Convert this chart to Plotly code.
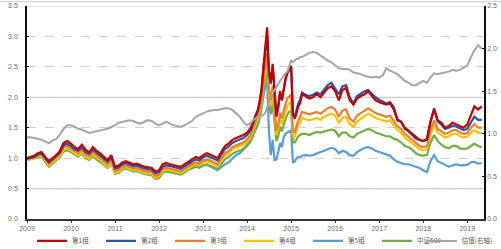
import pandas as pd
import plotly.graph_objects as go

# ---- dates: monthly, semi-monthly around the 2014/15 spike, monthly again ----
d1 = list(pd.date_range("2009-01-01", "2014-03-01", freq="MS"))
d2 = []
for m in pd.date_range("2014-04-01", "2015-03-01", freq="MS"):
    d2.append(m)
    d2.append(m + pd.Timedelta(days=15))
d3 = list(pd.date_range("2015-04-01", "2019-05-01", freq="MS"))
dates = d1 + d2 + d3

names = ["第1组", "第2组", "第3组", "第4组", "第5组", "中证500", "估值(右轴)"]
colors = ["#C00000", "#2E54A1", "#ED7D31", "#FFC000", "#5B9BD5", "#70AD47", "#A5A5A5"]

g1 = [1.00,1.02,1.04,1.08,1.10,1.02,0.95,1.00,1.05,1.12,1.25,1.28,
      1.24,1.18,1.15,1.22,1.14,1.10,1.18,1.12,1.08,1.02,0.97,1.05,
      0.86,0.88,0.93,0.95,0.93,0.90,0.91,0.88,0.86,0.85,0.84,0.78,
      0.80,0.90,0.92,0.90,0.88,0.87,0.86,0.90,0.95,0.98,1.02,1.00,
      1.05,1.08,1.06,1.03,1.00,1.10,1.20,1.24,1.30,1.33,1.35,1.38,
      1.42,1.50,1.65,
      1.80,1.95,2.15,2.50,2.85,3.15,2.45,2.25,2.55,2.10,1.70,1.85,2.10,1.95,2.15,2.30,2.40,2.45,
      2.50,1.75,1.65,1.75,1.85,1.90,
      2.05,2.02,1.98,2.00,2.05,2.00,2.08,2.15,2.18,
      2.10,1.95,2.12,2.15,1.95,1.88,1.98,2.02,2.05,2.10,2.02,1.95,
      1.92,1.90,1.88,1.90,1.80,1.62,1.60,1.50,1.45,1.40,1.35,1.30,
      1.28,1.32,1.60,1.80,1.62,1.58,1.50,1.53,1.58,1.55,1.52,1.50,
      1.55,1.72,1.85,1.80,1.85]

g2 = [0.99,1.01,1.02,1.06,1.08,1.00,0.93,0.98,1.03,1.09,1.21,1.24,
      1.20,1.14,1.12,1.18,1.10,1.07,1.14,1.09,1.05,0.99,0.94,1.01,
      0.83,0.85,0.90,0.92,0.90,0.87,0.88,0.85,0.83,0.82,0.81,0.75,
      0.77,0.86,0.88,0.87,0.85,0.84,0.83,0.87,0.91,0.94,0.98,0.96,
      1.01,1.04,1.02,0.99,0.96,1.05,1.15,1.19,1.25,1.28,1.30,1.33,
      1.38,1.46,1.62,
      1.78,1.92,2.12,2.45,2.78,3.02,2.40,2.22,2.50,2.05,1.68,1.83,2.08,1.95,2.15,2.30,2.40,2.47,
      2.52,1.70,1.68,1.80,1.90,1.95,
      2.08,2.04,2.02,2.04,2.08,2.05,2.12,2.20,2.24,
      2.15,2.05,2.18,2.20,2.00,1.90,2.02,2.06,2.10,2.12,2.06,2.00,
      1.96,1.93,1.90,1.92,1.84,1.64,1.60,1.48,1.44,1.38,1.32,1.30,
      1.28,1.30,1.58,1.82,1.60,1.55,1.48,1.50,1.53,1.52,1.49,1.46,
      1.48,1.58,1.68,1.63,1.63]

g3 = [0.99,1.00,1.01,1.04,1.06,0.98,0.91,0.96,1.01,1.07,1.18,1.20,
      1.16,1.11,1.08,1.14,1.06,1.03,1.10,1.05,1.01,0.95,0.90,0.97,
      0.79,0.81,0.86,0.88,0.86,0.83,0.84,0.81,0.79,0.78,0.77,0.71,
      0.73,0.82,0.84,0.83,0.81,0.80,0.79,0.83,0.87,0.90,0.93,0.91,
      0.96,0.98,0.96,0.93,0.90,0.99,1.08,1.12,1.18,1.21,1.23,1.26,
      1.31,1.39,1.55,
      1.70,1.84,2.02,2.30,2.55,2.72,2.15,1.95,2.20,1.80,1.45,1.55,1.75,1.65,1.80,1.90,1.98,2.02,
      2.05,1.45,1.42,1.55,1.62,1.68,
      1.76,1.74,1.72,1.74,1.76,1.73,1.78,1.82,1.84,
      1.80,1.68,1.78,1.80,1.65,1.60,1.70,1.74,1.78,1.82,1.78,1.74,
      1.72,1.70,1.68,1.70,1.62,1.52,1.48,1.40,1.35,1.30,1.25,1.20,
      1.18,1.20,1.45,1.62,1.48,1.44,1.40,1.42,1.46,1.46,1.42,1.40,
      1.41,1.50,1.56,1.50,1.50]

g4 = [0.98,0.99,1.00,1.03,1.04,0.96,0.88,0.93,0.98,1.04,1.14,1.16,
      1.12,1.07,1.04,1.10,1.02,0.99,1.06,1.01,0.97,0.91,0.86,0.93,
      0.76,0.78,0.83,0.85,0.83,0.80,0.81,0.78,0.76,0.75,0.74,0.68,
      0.70,0.79,0.81,0.80,0.78,0.77,0.76,0.80,0.84,0.87,0.90,0.88,
      0.93,0.95,0.93,0.90,0.87,0.96,1.04,1.08,1.14,1.17,1.19,1.22,
      1.27,1.35,1.50,
      1.65,1.78,1.95,2.22,2.45,2.60,2.05,1.85,2.05,1.70,1.38,1.48,1.66,1.56,1.70,1.78,1.86,1.90,
      1.92,1.36,1.35,1.48,1.55,1.58,
      1.66,1.64,1.62,1.64,1.66,1.63,1.68,1.71,1.73,
      1.70,1.58,1.66,1.68,1.56,1.52,1.60,1.64,1.68,1.73,1.70,1.66,
      1.64,1.62,1.60,1.62,1.55,1.46,1.42,1.34,1.29,1.24,1.19,1.15,
      1.13,1.15,1.38,1.55,1.42,1.38,1.34,1.36,1.40,1.40,1.36,1.34,
      1.35,1.42,1.46,1.42,1.41]

g5 = [1.00,1.02,1.03,1.07,1.08,1.00,0.93,0.99,1.04,1.11,1.22,1.23,
      1.18,1.12,1.10,1.16,1.08,1.04,1.11,1.06,1.02,0.96,0.91,0.98,
      0.80,0.82,0.87,0.89,0.87,0.84,0.85,0.82,0.79,0.78,0.77,0.70,
      0.72,0.80,0.82,0.81,0.79,0.77,0.76,0.79,0.82,0.85,0.87,0.85,
      0.88,0.89,0.86,0.83,0.80,0.85,0.90,0.93,1.00,1.05,1.08,1.14,
      1.22,1.30,1.42,
      1.55,1.68,1.82,2.02,2.18,2.25,1.45,1.05,1.30,0.97,0.98,1.10,1.25,1.18,1.35,1.40,1.42,1.45,
      1.46,0.92,0.95,1.00,1.02,1.02,
      1.04,1.05,1.04,1.05,1.08,1.10,1.12,1.15,1.17,
      1.15,1.08,1.12,1.10,1.05,1.04,1.10,1.14,1.17,1.18,1.16,1.12,
      1.10,1.08,1.06,1.04,0.98,0.94,0.92,0.90,0.90,0.88,0.86,0.84,
      0.80,0.77,0.95,1.05,0.95,0.92,0.88,0.86,0.88,0.90,0.88,0.88,
      0.89,0.93,0.94,0.91,0.92]

zz500 = [0.97,0.98,0.99,1.01,1.02,0.94,0.86,0.91,0.96,1.02,1.11,1.13,
         1.10,1.05,1.02,1.08,1.00,0.97,1.03,0.98,0.94,0.89,0.84,0.91,
         0.74,0.76,0.81,0.83,0.81,0.78,0.79,0.76,0.74,0.73,0.72,0.66,
         0.67,0.76,0.78,0.77,0.75,0.74,0.73,0.77,0.81,0.83,0.86,0.84,
         0.88,0.90,0.88,0.85,0.82,0.90,0.98,1.02,1.07,1.10,1.12,1.15,
         1.20,1.28,1.42,
         1.56,1.68,1.85,2.10,2.32,2.45,1.92,1.72,1.90,1.58,1.28,1.36,1.52,1.44,1.56,1.64,1.72,1.76,
         1.78,1.26,1.26,1.32,1.36,1.38,
         1.40,1.40,1.38,1.41,1.43,1.42,1.44,1.46,1.47,
         1.45,1.36,1.42,1.42,1.36,1.34,1.40,1.43,1.46,1.48,1.46,1.42,
         1.40,1.38,1.36,1.36,1.32,1.30,1.26,1.20,1.18,1.14,1.08,1.05,
         1.04,1.05,1.25,1.38,1.28,1.22,1.18,1.16,1.20,1.20,1.16,1.15,
         1.16,1.20,1.24,1.20,1.18]

valuation = [0.96,0.96,0.95,0.94,0.93,0.91,0.89,0.92,0.94,0.99,1.06,1.10,
             1.10,1.08,1.06,1.05,1.03,1.01,1.02,1.03,1.04,1.05,1.06,1.08,
             1.10,1.13,1.14,1.15,1.16,1.15,1.13,1.12,1.14,1.16,1.15,1.12,
             1.10,1.12,1.14,1.12,1.10,1.09,1.08,1.10,1.13,1.15,1.20,1.22,
             1.24,1.26,1.27,1.28,1.28,1.29,1.30,1.30,1.28,1.24,1.20,1.14,
             1.10,1.13,1.17,
             1.20,1.20,1.21,1.22,1.25,1.32,1.40,1.44,1.48,1.51,1.55,1.58,1.62,1.65,1.69,1.71,1.73,1.80,
             1.86,1.84,1.86,1.88,1.88,1.90,
             1.90,1.92,1.95,1.96,1.95,1.92,1.89,1.86,1.84,
             1.80,1.77,1.76,1.76,1.75,1.72,1.71,1.70,1.68,1.67,1.66,1.67,
             1.66,1.69,1.77,1.74,1.72,1.70,1.66,1.62,1.60,1.57,1.57,1.59,
             1.62,1.60,1.66,1.71,1.70,1.71,1.72,1.73,1.75,1.74,1.75,1.77,
             1.80,1.90,1.98,2.04,2.00]

year_ticks = [str(y) for y in range(2009, 2020)]
left_ticks = [0.0, 0.5, 1.0, 1.5, 2.0, 2.5, 3.0, 3.5]
right_ticks = [0.0, 0.5, 1.0, 1.5, 2.0, 2.5]
solid_grid = [0.5, 2.0, 3.5]

series = [g1, g2, g3, g4, g5, zz500, valuation]
for s in series:
    assert len(s) == len(dates), (len(s), len(dates))

fig = go.Figure()
draw_order = [6, 4, 5, 3, 2, 1, 0]
for i in draw_order:
    fig.add_trace(go.Scatter(
        x=dates, y=series[i], name=names[i], mode="lines",
        line=dict(color=colors[i], width=2.2 if i < 6 else 2),
        yaxis="y2" if i == 6 else "y",
        legend="legend2" if i == 6 else "legend",
        legendrank=i + 1,
    ))

for v in solid_grid:
    fig.add_shape(type="line", xref="paper", yref="y", x0=0, x1=1, y0=v, y1=v,
                  line=dict(color="#C6D0C6", width=1.2), layer="below")
# outer frame line at the very top
fig.add_shape(type="line", xref="paper", yref="paper", x0=-0.06, x1=1.04, y0=1.02, y1=1.02,
              line=dict(color="#C8C8C8", width=1), layer="below")

tickfont = dict(size=7, color="#6A6A6A", family="Liberation Sans, Arial, sans-serif")
legfont = dict(size=6.5, color="#555555", family="Noto Sans CJK SC, sans-serif")
fig.update_layout(
    width=501, height=249,
    margin=dict(l=27, r=17, t=6, b=30, autoexpand=False),
    paper_bgcolor="white", plot_bgcolor="white",
    font=dict(family="Noto Sans CJK SC, sans-serif"),
    showlegend=True,
    legend=dict(orientation="h", x=0.011, xanchor="left",
                yref="paper", y=-0.103, yanchor="middle",
                font=legfont, itemwidth=30,
                entrywidth=24, entrywidthmode="pixels",
                traceorder="normal", bgcolor="rgba(0,0,0,0)"),
    legend2=dict(orientation="h", x=0.864, xanchor="left",
                 yref="paper", y=-0.103, yanchor="middle",
                 font=legfont, itemwidth=30, bgcolor="rgba(0,0,0,0)"),
    xaxis=dict(type="date", range=["2009-01-01", "2019-05-20"],
               tickvals=[f"{y}-01-01" for y in year_ticks], ticktext=year_ticks,
               tickfont=tickfont, showgrid=False, showline=True, linecolor="#333333",
               linewidth=1.5, ticks="outside", ticklen=2, tickcolor="#333333", zeroline=False),
    yaxis=dict(range=[0, 3.5], tickvals=left_ticks, tickformat=".1f", tickfont=tickfont,
               showgrid=True, gridcolor="#DCC8D2", griddash="dash", gridwidth=1,
               showline=True, linecolor="#111111", linewidth=1.5,
               ticks="inside", ticklen=2, tickcolor="#111111", zeroline=False,
               ticklabelstandoff=6),
    yaxis2=dict(range=[0, 2.5], tickvals=right_ticks, tickformat=".1f", tickfont=tickfont,
                overlaying="y", side="right", showgrid=False, showline=True,
                linecolor="#111111", linewidth=1.5, ticks="inside", ticklen=2,
                tickcolor="#111111", zeroline=False),
)

fig.write_html("out.html")
